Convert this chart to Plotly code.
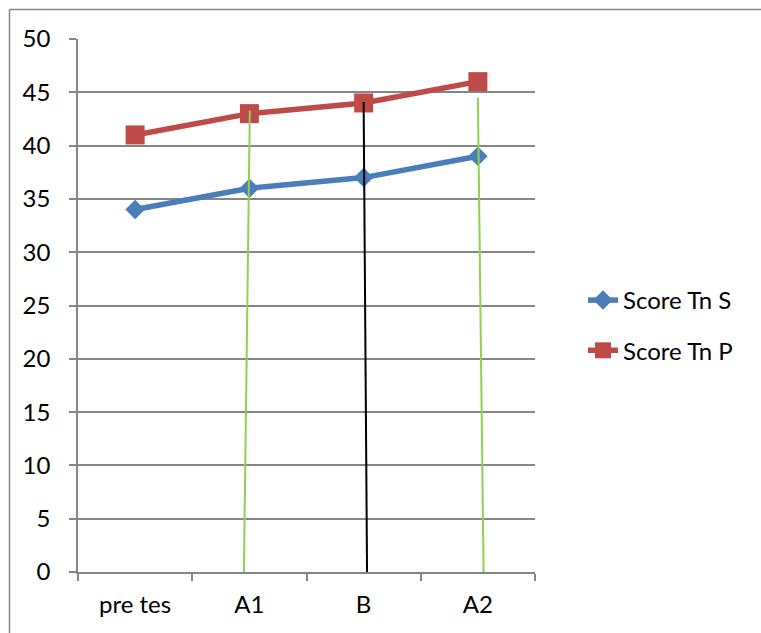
import plotly.graph_objects as go

categories = ["pre tes", "A1", "B", "A2"]
score_s = [34, 36, 37, 39]
score_p = [41, 43, 44, 46]
y_ticks = list(range(0, 51, 5))

# drawn marker lines: (category index at top, category index at bottom, top value, colour)
marker_lines = [
    (1.004, 0.952, 43.3, "#92D050"),
    (2.0, 2.03, 44.1, "#000000"),
    (3.0, 3.05, 44.5, "#92D050"),
]

W, H = 761, 633
L, R, T, B = 78, 535, 39, 572

fig = go.Figure()
fig.add_trace(go.Scatter(
    x=categories, y=score_s, name="Score Tn S", mode="lines+markers",
    line=dict(color="#4A7EBB", width=5.5),
    marker=dict(symbol="diamond", size=15, color="#4A7EBB"),
    legendgroup="s",
))
fig.add_trace(go.Scatter(
    x=categories, y=score_p, name="Score Tn P", mode="lines+markers",
    line=dict(color="#BE4B48", width=5.5),
    marker=dict(symbol="square", size=19, color="#BE4B48"),
    legendgroup="p",
))

shapes = []
for xt, xb, yt, col in marker_lines:
    shapes.append(dict(type="line", xref="x", yref="y", x0=xt, y0=yt, x1=xb, y1=0,
                       line=dict(color=col, width=2), layer="above"))
# chart border (top and left visible)
px2x = lambda px: (px - L) / (R - L)
px2y = lambda py: (B - py) / (B - T)
shapes.append(dict(type="line", xref="paper", yref="paper", x0=px2x(9.5), y0=px2y(9.5),
                   x1=px2x(762), y1=px2y(9.5), line=dict(color="#868686", width=1.5)))
shapes.append(dict(type="line", xref="paper", yref="paper", x0=px2x(9.5), y0=px2y(9.5),
                   x1=px2x(9.5), y1=px2y(640), line=dict(color="#868686", width=1.5)))

font = "Lato, Open Sans, sans-serif"
fig.update_layout(
    width=W, height=H,
    margin=dict(l=L, r=W - R, t=T, b=H - B),
    paper_bgcolor="white", plot_bgcolor="white",
    font=dict(family=font, size=24, color="black"),
    showlegend=True,
    legend=dict(x=(583 - L) / (R - L), y=px2y(278), xanchor="left", yanchor="top",
                font=dict(size=24), tracegroupgap=16, bgcolor="rgba(0,0,0,0)"),
    shapes=shapes,
    xaxis=dict(
        type="category", categoryorder="array", categoryarray=categories,
        range=[-0.5, len(categories) - 0.5], tickson="boundaries",
        showgrid=False, showline=True, linecolor="#868686", linewidth=1.5,
        ticks="outside", ticklen=7, tickcolor="#868686", tickwidth=1.5,
        zeroline=False, ticklabelstandoff=10,
    ),
    yaxis=dict(
        range=[0, 50], tickvals=y_ticks, showgrid=True, gridcolor="#868686", gridwidth=1.5,
        showline=True, linecolor="#868686", linewidth=1.5,
        ticks="outside", ticklen=7, tickcolor="#868686", tickwidth=1.5,
        zeroline=False, ticklabelstandoff=14,
    ),
)
fig.write_html("out.html")
